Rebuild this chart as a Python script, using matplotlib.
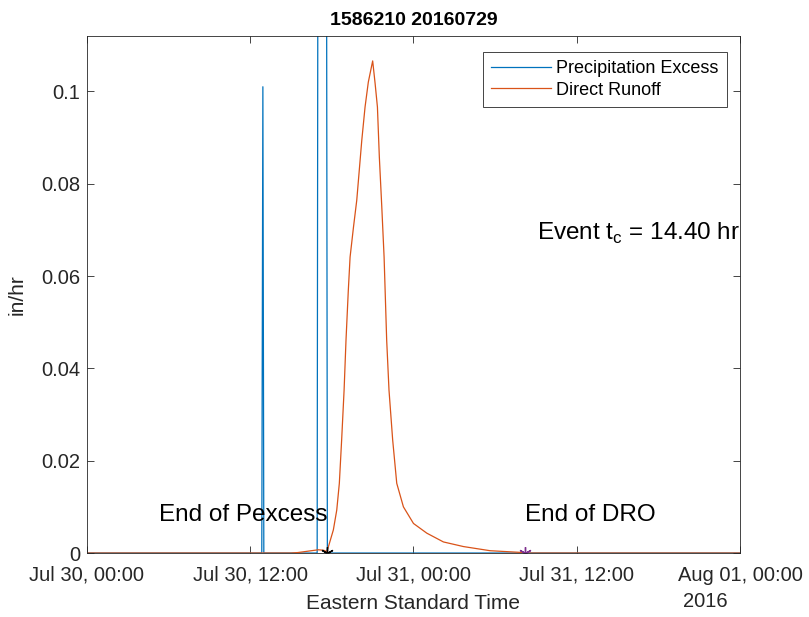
import numpy as np
import pandas as pd
import matplotlib.pyplot as plt
import matplotlib.dates as mdates

plt.rcParams['font.family'] = ['Liberation Sans', 'DejaVu Sans']
plt.rcParams['mathtext.fontset'] = 'custom'
plt.rcParams['mathtext.rm'] = 'Liberation Sans'

start = pd.Timestamp("2016-07-30 00:00")

# precipitation excess (hours since start, in/hr)
pex_hours = [0, 12.85, 12.93, 13.0, 16.92, 17.0, 17.58, 17.67, 48]
pex_vals = [0, 0, 0.101, 0, 0, 0.2, 0.2, 0, 0]

# direct runoff (hours since start, in/hr)
dro_hours = [0, 15.0, 15.5, 16.0, 16.5, 17.0, 17.4, 17.62, 17.75, 18.11, 18.36, 18.55,
             18.72, 18.9, 19.04, 19.21, 19.34, 19.59, 19.83, 20.2, 20.44, 20.68, 21.0,
             21.18, 21.35, 21.49, 21.67, 21.84, 22.03, 22.2, 22.47, 22.77, 23.26, 24.0,
             24.98, 26.2, 27.67, 29.63, 32.08, 32.2, 48]
dro_vals = [0, 0, 0.0001, 0.0003, 0.0005, 0.0007, 0.0006, 0.0003, 0.0014, 0.0050, 0.0093, 0.0151,
            0.0245, 0.0353, 0.0461, 0.0569, 0.0641, 0.0706, 0.0764, 0.0894, 0.0966, 0.1020, 0.1066,
            0.1017, 0.0966, 0.0858, 0.0750, 0.0641, 0.0461, 0.0353, 0.0245, 0.0151, 0.0100, 0.0064,
            0.0043, 0.0024, 0.0014, 0.0005, 0.0001, 0.0, 0]

end_pex = 17.67
end_dro = 32.2
tc = 14.40

def to_time(h):
    return [start + pd.Timedelta(hours=x) for x in h]

fig = plt.figure(figsize=(8.09, 6.17), dpi=100)
ax = fig.add_axes([0.1075, 0.1037, 0.8072, 0.838])

ax.plot(to_time(pex_hours), pex_vals, color='#0072BD', lw=0.9, label='Precipitation Excess')
ax.plot(to_time(dro_hours), dro_vals, color='#D95319', lw=0.9, label='Direct Runoff')
ax.plot(to_time([end_pex]), [0], marker=(6, 2, 0), color='k', ms=9, mew=1, ls='none')
ax.plot(to_time([end_dro]), [0], marker=(6, 2, 0), color='#7E2F8E', ms=9, mew=1, ls='none')

ax.text(to_time([end_pex])[0], 0.0082, 'End of Pexcess', ha='right', va='center', fontsize=17.5)
ax.text(to_time([end_dro])[0], 0.0082, 'End of DRO', ha='left', va='center', fontsize=17.5)
ax.text(to_time([33.1])[0], 0.0693, 'Event t$_\\mathregular{c}$ = %.2f hr' % tc,
        ha='left', va='center', fontsize=17.5)

ax.set_xlim(start, start + pd.Timedelta(hours=48))
ax.set_ylim(0, 0.112)
ax.xaxis.set_major_locator(mdates.HourLocator(byhour=[0, 12]))
ax.xaxis.set_major_formatter(mdates.DateFormatter('%b %d, %H:%M'))
ax.set_yticks([0, 0.02, 0.04, 0.06, 0.08, 0.1])
ax.set_yticklabels(['0', '0.02', '0.04', '0.06', '0.08', '0.1'])
ax.tick_params(direction='in', length=5, width=0.6, top=True, right=True,
               labelsize=14.5, colors='#262626')
ax.tick_params(axis='x', pad=9)
ax.tick_params(axis='y', pad=5)
for s in ax.spines.values():
    s.set_linewidth(0.6)
    s.set_color('#262626')

ax.set_xlabel('Eastern Standard Time', fontsize=15, color='#262626', labelpad=7)
ax.set_ylabel('in/hr', fontsize=15, color='#262626', labelpad=10)
ax.set_title('1586210 20160729', fontsize=14, fontweight='bold', pad=8)
ax.text(0.913, -0.093, '2016', transform=ax.transAxes, ha='left', va='center',
        fontsize=14.5, color='#262626')

leg = ax.legend(loc='upper right', bbox_to_anchor=(0.98, 0.969), borderaxespad=0,
                fontsize=13, frameon=True, fancybox=False, framealpha=1,
                edgecolor='#262626', handlelength=3.3, handletextpad=0.3,
                borderpad=0.45, labelspacing=0.25)
leg.get_frame().set_linewidth(0.6)

fig.savefig('out.png', dpi=100)
